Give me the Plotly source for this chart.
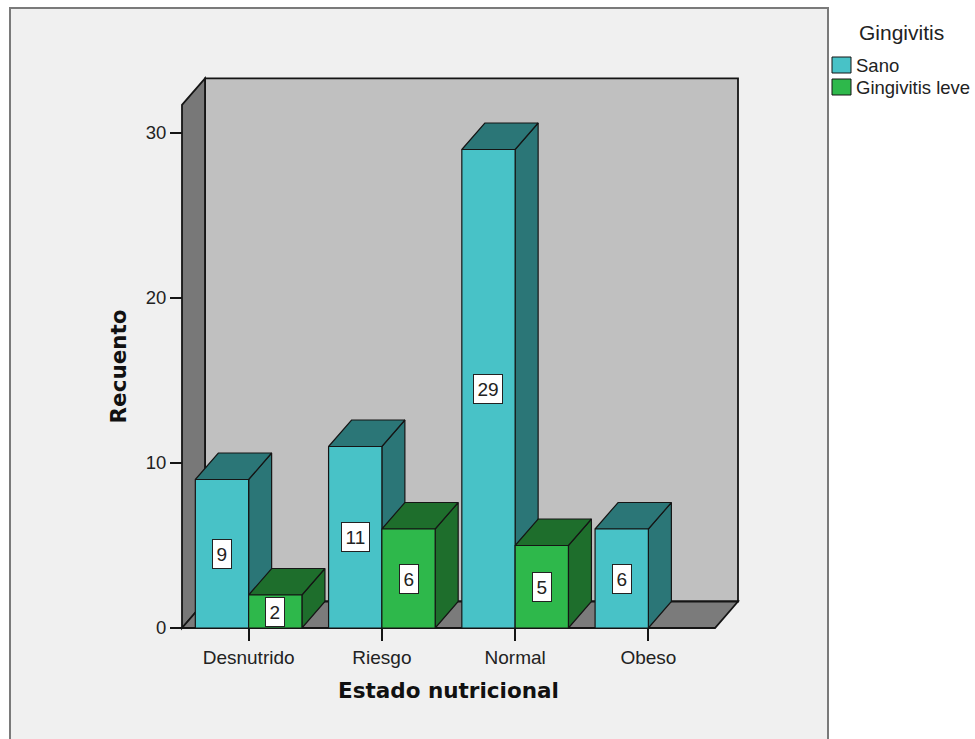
import plotly.graph_objects as go

# ---- data -------------------------------------------------------------
categories = ["Desnutrido", "Riesgo", "Normal", "Obeso"]
sano = [9, 11, 29, 6]
gingivitis_leve = [2, 6, 5, 0]
series_names = ["Sano", "Gingivitis leve"]
y_ticks = [0, 10, 20, 30]

legend_title = "Gingivitis"
x_title = "Estado nutricional"
y_title = "Recuento"

# ---- geometry / style -------------------------------------------------
W, H = 975, 739
X0_PX, CAT_PX = 182, 133.25      # front-left floor corner and width of one category
Y0_PX, UNIT_PX = 628, 16.5       # baseline pixel and pixels per count
DEPTH_X = 23 / CAT_PX            # oblique depth offset in axis units
DEPTH_Y = 26.5 / UNIT_PX
WALL_TOP = 31.7
GROUP_W = 0.8
N = len(categories)

FRONT = ["#48c2c7", "#2eb84b"]
DARK = ["#2b7677", "#1e6e2c"]
EDGE = "#151515"
TEXT = "#222222"
REG_FONT = "Liberation Sans, Arial, sans-serif"
BOLD_FONT = "DejaVu Sans, Verdana, sans-serif"


def px_x(p):
    return p / W


def px_y(p):
    return 1 - p / H


x_range = [-X0_PX / CAT_PX, (W - X0_PX) / CAT_PX]
y_range = [-(H - Y0_PX) / UNIT_PX, Y0_PX / UNIT_PX]

fig = go.Figure()

# ---- bars: collect side, top and front faces per series -------------
faces = {k: [([], []), ([], [])] for k in ("side", "top", "front")}
labels = []
bar_w = GROUP_W / len(series_names)
for s, values in enumerate([sano, gingivitis_leve]):
    for i, h in enumerate(values):
        if h <= 0:
            continue
        xl = i + (1 - GROUP_W) / 2 + s * bar_w
        xr = xl + bar_w
        dx, dy = DEPTH_X, DEPTH_Y
        polys = {
            "front": [(xl, 0), (xr, 0), (xr, h), (xl, h)],
            "top": [(xl, h), (xr, h), (xr + dx, h + dy), (xl + dx, h + dy)],
            "side": [(xr, 0), (xr + dx, dy), (xr + dx, h + dy), (xr, h)],
        }
        for k, pts in polys.items():
            xs, ys = faces[k][s]
            pts = pts + [pts[0]]
            xs.extend([p[0] for p in pts] + [None])
            ys.extend([p[1] for p in pts] + [None])
        labels.append(((xl + xr) / 2, h))

for k in ("side", "top", "front"):
    for s in range(len(series_names)):
        xs, ys = faces[k][s]
        fig.add_trace(go.Scatter(
            x=xs, y=ys, mode="lines", fill="toself",
            fillcolor=FRONT[s] if k == "front" else DARK[s],
            line=dict(color=EDGE, width=1.2),
            hoverinfo="skip", showlegend=False,
        ))

# ---- chart frame and 3D walls ------------------------------------------
shapes = [
    dict(type="rect", xref="paper", yref="paper",
         x0=px_x(10), x1=px_x(828), y0=-0.02, y1=px_y(8),
         fillcolor="#f0f0f0", line=dict(color="#7a7a7a", width=2), layer="below"),
]
dx, dy = DEPTH_X, DEPTH_Y
wall_paths = [
    (f"M {dx},{dy} L {N + dx},{dy} L {N + dx},{WALL_TOP + dy} L {dx},{WALL_TOP + dy} Z", "#c0c0c0"),
    (f"M 0,0 L {dx},{dy} L {dx},{WALL_TOP + dy} L 0,{WALL_TOP} Z", "#787878"),
    (f"M 0,0 L {N},0 L {N + dx},{dy} L {dx},{dy} Z", "#7b7b7b"),
]
for path, color in wall_paths:
    shapes.append(dict(type="path", xref="x", yref="y", path=path,
                       fillcolor=color, line=dict(color=EDGE, width=1.8), layer="below"))

# legend swatches
for s in range(len(series_names)):
    top = 57 + s * 22
    shapes.append(dict(type="rect", xref="paper", yref="paper",
                       x0=px_x(832), x1=px_x(851), y0=px_y(top + 16), y1=px_y(top),
                       fillcolor=FRONT[s], line=dict(color=EDGE, width=1)))

annotations = []
for xc, h in labels:
    annotations.append(dict(
        x=xc, y=h / 2, xref="x", yref="y", text=str(h), showarrow=False,
        bgcolor="white", bordercolor="#222", borderwidth=1, borderpad=3.5,
        font=dict(family=REG_FONT, size=19, color=TEXT),
    ))

annotations.append(dict(
    x=N / 2, y=px_y(690), xref="x", yref="paper", text=x_title, showarrow=False,
    font=dict(family=BOLD_FONT, size=21.5, color="#111", weight="bold"), yanchor="middle",
))
annotations.append(dict(
    x=px_x(118), y=WALL_TOP / 2, xref="paper", yref="y", text=y_title, showarrow=False,
    textangle=-90, font=dict(family=BOLD_FONT, size=21.5, color="#111", weight="bold"),
    xanchor="center",
))
annotations.append(dict(
    x=px_x(901), y=px_y(32), xref="paper", yref="paper", text=legend_title, showarrow=False,
    font=dict(family=REG_FONT, size=21, color=TEXT), xanchor="center", yanchor="middle",
))
for s, name in enumerate(series_names):
    annotations.append(dict(
        x=px_x(854), y=px_y(65 + s * 22), xref="paper", yref="paper", text=name,
        showarrow=False, font=dict(family=REG_FONT, size=18.5, color=TEXT),
        xanchor="left", yanchor="middle",
    ))

fig.update_layout(
    width=W, height=H,
    margin=dict(l=0, r=0, t=0, b=0),
    paper_bgcolor="white",
    plot_bgcolor="rgba(0,0,0,0)",
    showlegend=False,
    shapes=shapes,
    annotations=annotations,
    xaxis=dict(
        range=x_range, showgrid=False, zeroline=False, showline=False,
        anchor="free", position=px_y(Y0_PX),
        tickmode="array", tickvals=[i + 0.5 for i in range(N)], ticktext=categories,
        ticks="outside", ticklen=12, tickwidth=1.5, tickcolor=EDGE,
        tickfont=dict(family=REG_FONT, size=19, color=TEXT),
    ),
    yaxis=dict(
        range=y_range, showgrid=False, zeroline=False, showline=False,
        anchor="free", position=px_x(X0_PX),
        tickmode="array", tickvals=y_ticks, ticktext=[str(v) for v in y_ticks],
        ticks="outside", ticklen=12, tickwidth=1.5, tickcolor=EDGE,
        tickfont=dict(family=REG_FONT, size=18.5, color=TEXT),
    ),
)

fig.write_html("out.html")
